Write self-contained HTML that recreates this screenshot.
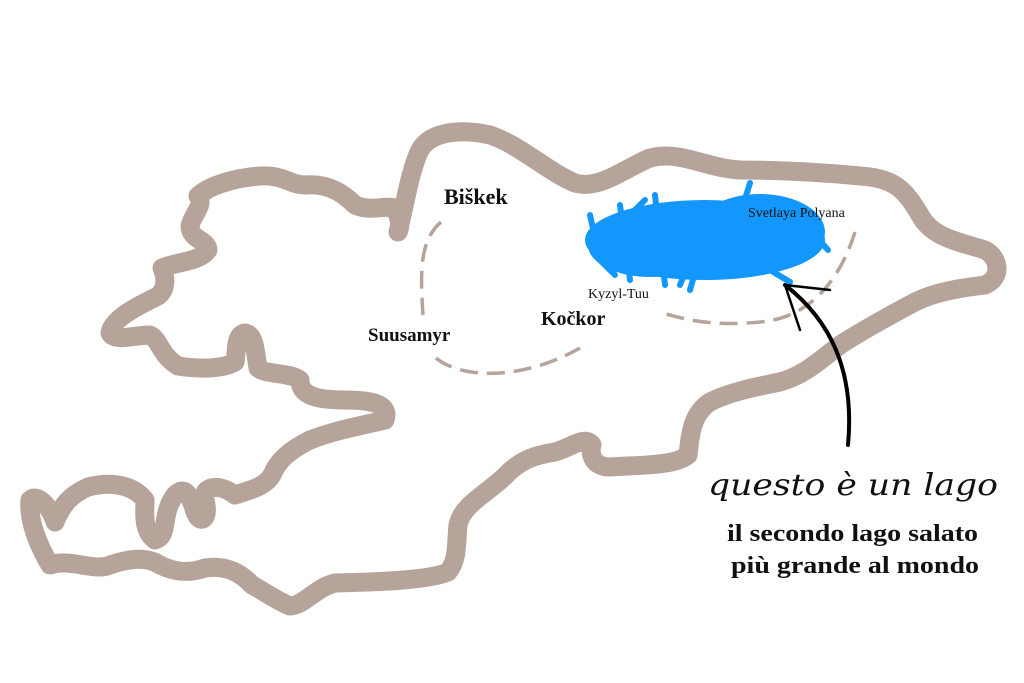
<!DOCTYPE html>
<html><head><style>
html,body{margin:0;padding:0;background:#fff;}
svg{display:block;}
</style></head><body>
<svg width="1024" height="683" viewBox="0 0 1024 683" xmlns="http://www.w3.org/2000/svg">
<path fill="none" stroke="#b6a39a" stroke-width="19" stroke-linecap="round" stroke-linejoin="round"
d="M398,232 C405,205 410,170 420,150 C430,132 460,128 490,135 C520,145 545,170 575,183 C600,190 625,168 650,158 C680,150 705,168 740,170 C780,170 820,172 860,176 C895,178 905,190 920,215 C932,238 960,242 985,250 C1000,258 1002,278 985,285 C960,288 935,292 915,302 C885,318 860,332 840,345 C820,360 805,375 780,382 C755,387 730,392 710,402 C690,415 690,440 688,455 C675,466 640,465 610,467 C590,467 590,450 592,445 C585,435 570,448 555,452 C535,455 520,460 505,476 C485,495 462,505 458,525 C456,545 458,560 448,572 C430,580 380,582 335,583 C315,588 305,605 290,606 C275,600 262,590 252,585 C240,572 225,565 205,568 C185,575 170,570 160,565 C145,555 125,560 110,565 C95,572 70,558 50,565 C38,545 28,520 30,500 C38,492 52,510 55,522 C62,505 70,495 88,487 C115,480 135,487 145,500 C145,512 142,530 155,540 C170,535 160,515 175,495 C185,485 190,495 195,512 C200,525 210,520 205,500 C200,490 215,480 235,495 C250,490 265,487 272,475 C278,460 290,450 310,440 C335,430 365,425 385,420 C390,405 375,400 345,400 C315,400 300,395 300,380 C290,372 265,375 258,368 C255,350 255,335 245,333 C235,335 237,350 235,362 C225,368 205,370 178,366 C160,355 160,340 150,335 C135,335 115,342 110,333 C112,318 140,305 158,296 C168,288 165,275 162,268 C175,262 200,262 208,250 C208,240 190,240 190,226 C192,215 205,205 198,196 C210,185 235,178 260,176 C285,175 290,185 305,185 C330,183 345,195 355,205 C370,212 385,205 395,208 C398,215 402,225 398,232 Z"/>
<g fill="none" stroke="#b6a39a" stroke-width="3.5" stroke-dasharray="18,9">
<path d="M441,222 C420,240 420,270 423,315"/>
<path d="M436,358 C460,378 520,382 580,348"/>
<path d="M855,232 C840,280 810,318 760,322 C720,326 690,322 660,312"/>
</g>
<g fill="#1497fc" stroke="#1497fc" stroke-linecap="round" stroke-width="6">
<ellipse cx="705" cy="240" rx="120" ry="40" stroke="none"/>
<ellipse cx="650" cy="245" rx="62" ry="32" stroke="none"/>
<ellipse cx="760" cy="232" rx="65" ry="38" stroke="none"/>
<path fill="none" d="M590,215 L600,260 M595,230 L660,265 M620,205 L630,280 M655,195 L665,285 M750,183 L740,215 M645,200 L600,245 M770,270 L790,282 M680,285 L690,260 M600,260 L615,275 M810,230 L828,250 M690,290 L700,255"/>
</g>
<g fill="none" stroke="#000" stroke-linecap="round">
<path d="M848,445 C855,370 830,320 785,285" stroke-width="4"/>
<path d="M785,285 L830,290 M785,285 L800,330" stroke-width="2.5"/>
</g>
<g font-family="Liberation Serif, serif" fill="#111">
<text x="444" y="204" font-size="22" font-weight="bold">Biškek</text>
<text x="368" y="341" font-size="19" font-weight="bold">Suusamyr</text>
<text x="541" y="325" font-size="20" font-weight="bold">Kočkor</text>
<text x="588" y="298" font-size="14">Kyzyl-Tuu</text>
<text x="748" y="217" font-size="14">Svetlaya Polyana</text>
<text x="708" y="495" font-size="30" font-style="italic" font-family="DejaVu Serif, serif" textLength="290" lengthAdjust="spacingAndGlyphs">questo è un lago</text>
<text x="727" y="541" font-size="24" font-weight="bold" textLength="251" lengthAdjust="spacingAndGlyphs">il secondo lago salato</text>
<text x="731" y="573" font-size="24" font-weight="bold" textLength="248" lengthAdjust="spacingAndGlyphs">più grande al mondo</text>
</g>
</svg>
</body></html>
